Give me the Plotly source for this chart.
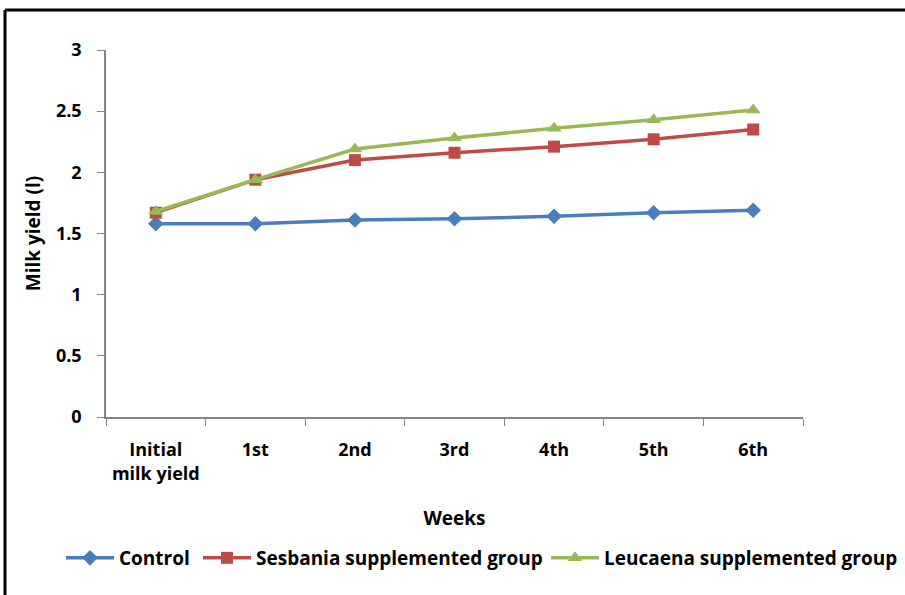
import plotly.graph_objects as go

categories = ["Initial<br>milk yield", "1st", "2nd", "3rd", "4th", "5th", "6th"]
control = [1.58, 1.58, 1.61, 1.62, 1.64, 1.67, 1.69]
sesbania = [1.67, 1.94, 2.10, 2.16, 2.21, 2.27, 2.35]
leucaena = [1.68, 1.94, 2.19, 2.28, 2.36, 2.43, 2.51]
y_ticks = [0, 0.5, 1, 1.5, 2, 2.5, 3]
y_tick_text = ["0", "0.5", "1", "1.5", "2", "2.5", "3"]

W, H = 905, 595
L, R, T, B = 106, 102, 50, 178
pw, ph = W - L - R, H - T - B

FONT = "Open Sans"
BLACK = "black"

def px(x):
    return (x - L) / pw

def py(y):
    return (H - B - y) / ph

fig = go.Figure()
series = [
    ("Control", control, "#4A7EBB", "diamond", 12, "legend", 61),
    ("Sesbania supplemented group", sesbania, "#BE4B48", "square", 12, "legend2", 198),
    ("Leucaena supplemented group", leucaena, "#98B954", "triangle-up", 13, "legend3", 546),
]
legend_font = dict(family=FONT, size=19, weight="bold", color=BLACK)
legends = {}
for name, vals, col, sym, sz, lg, lx in series:
    fig.add_trace(go.Scatter(
        x=categories, y=vals, name=name, mode="lines+markers",
        line=dict(color=col, width=3.5),
        marker=dict(symbol=sym, size=sz, color=col),
        legend=lg,
    ))
    legends[lg] = dict(
        orientation="h", x=px(lx), xanchor="left", y=py(558), yanchor="middle",
        font=legend_font, itemwidth=48, bgcolor="rgba(0,0,0,0)",
    )

frame = dict(type="line", xref="paper", yref="paper", line=dict(color="black", width=3))
fig.add_shape(**frame, x0=px(5), y0=py(598), x1=px(5), y1=py(10))
fig.add_shape(**frame, x0=px(5), y0=py(10), x1=px(910), y1=py(10))

tickfont = dict(family=FONT, size=18, weight="bold", color=BLACK)
titlefont = dict(family=FONT, size=19, weight="bold", color=BLACK)

fig.update_layout(
    width=W, height=H,
    margin=dict(l=L, r=R, t=T, b=B, autoexpand=False),
    paper_bgcolor="white", plot_bgcolor="white",
    font=dict(family=FONT, color=BLACK, size=18),
    showlegend=True,
    **legends,
    xaxis=dict(
        type="category", range=[-0.5, 6.5], tickson="boundaries",
        showline=True, linecolor="#868686", linewidth=1.5,
        ticks="outside", ticklen=7, tickcolor="#868686",
        showgrid=False, zeroline=False,
        tickfont=tickfont, ticklabelstandoff=16,
        title=dict(text="Weeks", font=titlefont, standoff=28),
    ),
    yaxis=dict(
        range=[0, 3], tickvals=y_ticks, ticktext=y_tick_text,
        showline=True, linecolor="#868686", linewidth=1.5,
        ticks="outside", ticklen=7, tickcolor="#868686",
        showgrid=False, zeroline=False,
        tickfont=tickfont, ticklabelstandoff=12,
        title=dict(text="Milk yield (l)", font=titlefont, standoff=10),
    ),
)

fig.write_html("out.html")
